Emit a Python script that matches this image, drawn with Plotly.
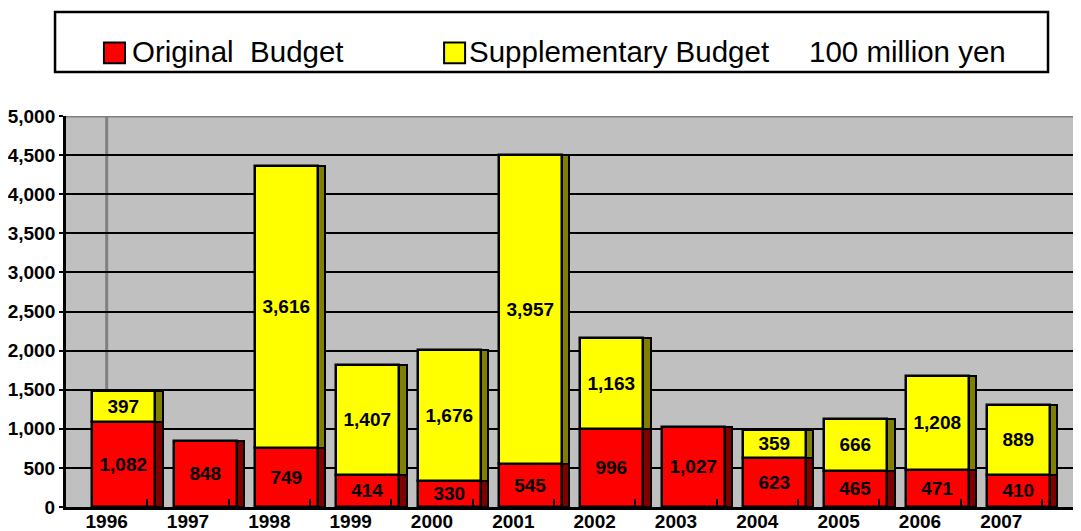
import plotly.graph_objects as go

years = ["1996", "1997", "1998", "1999", "2000", "2001", "2002", "2003", "2004", "2005", "2006", "2007"]
original = [1082, 848, 749, 414, 330, 545, 996, 1027, 623, 465, 471, 410]
supplementary = [397, 0, 3616, 1407, 1676, 3957, 1163, 0, 359, 666, 1208, 889]
y_ticks = [0, 500, 1000, 1500, 2000, 2500, 3000, 3500, 4000, 4500, 5000]

FRONT_OFF = 0.21
FRONT_W = 0.775
SIDE_W = 0.09
SIDE_OFF = FRONT_OFF + FRONT_W / 2 + SIDE_W / 2

idx = list(range(len(years)))
fmt = lambda v: f"{v:,}" if v else ""
sup_vals = [v if v else None for v in supplementary]

fig = go.Figure()

# side faces (pseudo 3D)
fig.add_trace(go.Bar(x=[i + SIDE_OFF for i in idx], y=original, base=[0] * len(idx),
                     width=SIDE_W, marker=dict(color="#800000", line=dict(color="black", width=2)),
                     hoverinfo="skip"))
fig.add_trace(go.Bar(x=[i + SIDE_OFF for i in idx], y=sup_vals, base=original,
                     width=SIDE_W, marker=dict(color="#808000", line=dict(color="black", width=2)),
                     hoverinfo="skip"))
# front faces
fig.add_trace(go.Bar(x=[i + FRONT_OFF for i in idx], y=original, base=[0] * len(idx),
                     width=FRONT_W, name="Original Budget",
                     marker=dict(color="#FF0000", line=dict(color="black", width=2.5)),
                     text=[fmt(v) for v in original], textposition="inside",
                     insidetextanchor="middle", constraintext="none",
                     textfont=dict(family="Liberation Sans", size=19, color="black", weight="bold")))
fig.add_trace(go.Bar(x=[i + FRONT_OFF for i in idx], y=sup_vals, base=original,
                     width=FRONT_W, name="Supplementary Budget",
                     marker=dict(color="#FFFF00", line=dict(color="black", width=2.5)),
                     text=[fmt(v) for v in supplementary], textposition="inside",
                     insidetextanchor="middle", constraintext="none",
                     textfont=dict(family="Liberation Sans", size=19, color="black", weight="bold")))

# back-left corner of the 3D wall
fig.add_shape(type="line", xref="x", yref="y", x0=0, x1=0, y0=0, y1=5000,
              line=dict(color="#808080", width=3), layer="below")
fig.add_shape(type="line", xref="paper", yref="y", x0=0, x1=1, y0=5000, y1=5000,
              line=dict(color="#808080", width=3))

# custom legend
fig.add_shape(type="rect", xref="paper", yref="paper", x0=-0.0108, x1=0.9675, y0=1.1125, y1=1.266,
              line=dict(color="black", width=2.5), fillcolor="white")
fig.add_shape(type="rect", xref="paper", yref="paper", x0=0.0374, x1=0.0581, y0=1.135, y1=1.188,
              line=dict(color="black", width=2), fillcolor="#FF0000")
fig.add_shape(type="rect", xref="paper", yref="paper", x0=0.3725, x1=0.3932, y0=1.135, y1=1.188,
              line=dict(color="black", width=2), fillcolor="#FFFF00")
legend_texts = [("Original\u00a0\u00a0Budget", 0.063), ("Supplementary Budget", 0.395), ("100 million yen", 0.730)]
for t, xp in legend_texts:
    fig.add_annotation(text=t, xref="paper", yref="paper", x=xp, y=1.165, xanchor="left",
                       yanchor="middle", showarrow=False,
                       font=dict(family="Liberation Sans", size=29.5, color="black"))

fig.update_layout(
    width=1073, height=523,
    margin=dict(l=58, r=0, t=108, b=24),
    barmode="overlay",
    showlegend=False,
    plot_bgcolor="#C0C0C0",
    paper_bgcolor="white",
    bargap=0,
)
fig.update_xaxes(range=[-0.5, 11.98], tickvals=idx, ticktext=years, ticks="", automargin=False,
                 showgrid=False, zeroline=False, showline=True, linecolor="black", linewidth=3,
                 ticklabelstandoff=-5,
                 tickfont=dict(family="Liberation Sans", size=19, color="black", weight="bold"),
                 minor=dict(tickvals=[i + 0.5 for i in idx], ticks="inside", ticklen=8,
                            tickcolor="black", tickwidth=2, showgrid=False))
fig.update_yaxes(range=[0, 5000], tickvals=y_ticks, tickformat=",", ticks="outside", ticklen=4,
                 tickcolor="black", tickwidth=2, showgrid=True, gridcolor="black", gridwidth=2,
                 zeroline=False, showline=True, linecolor="black", linewidth=3, automargin=False,
                 tickfont=dict(family="Liberation Sans", size=19, color="black", weight="bold"))

fig.write_html("out.html")
